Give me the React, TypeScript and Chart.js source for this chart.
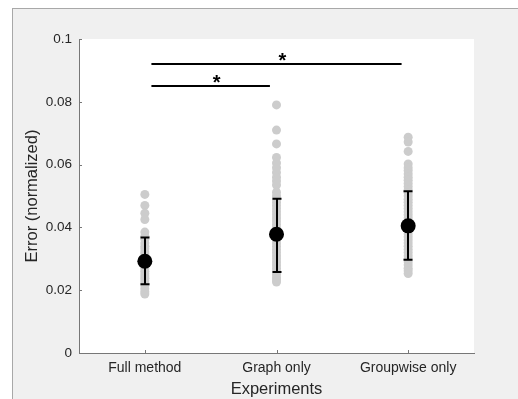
import React, { useEffect, useRef } from "react";
import { Chart, registerables } from "chart.js";

Chart.register(...registerables);

const categories = ["Full method", "Graph only", "Groupwise only"];
const yTicks = [0, 0.02, 0.04, 0.06, 0.08, 0.1];

const fullPoints = [
  0.0505, 0.047, 0.0445, 0.0425, 0.0385, 0.0372, 0.0362, 0.035, 0.034, 0.0332,
  0.0322, 0.0315, 0.0305, 0.0298, 0.029, 0.0282, 0.0275, 0.0268, 0.026, 0.0252,
  0.0245, 0.0238, 0.023, 0.0222, 0.0215, 0.0205, 0.0195, 0.0188,
];
const graphPoints = [
  0.079, 0.071, 0.0666, 0.0623, 0.0605, 0.059, 0.0575, 0.056, 0.0548, 0.0535,
  0.0512, 0.05, 0.049, 0.048, 0.047, 0.046, 0.045, 0.044, 0.043, 0.042, 0.041,
  0.04, 0.039, 0.038, 0.037, 0.036, 0.035, 0.034, 0.033, 0.032, 0.031, 0.03,
  0.029, 0.028, 0.027, 0.026, 0.025, 0.024, 0.0233, 0.0226,
];
const groupPoints = [
  0.0687, 0.0672, 0.0642, 0.0602, 0.059, 0.0581, 0.057, 0.056, 0.055, 0.054,
  0.053, 0.052, 0.051, 0.05, 0.049, 0.048, 0.047, 0.046, 0.045, 0.044, 0.043,
  0.042, 0.041, 0.04, 0.039, 0.038, 0.037, 0.036, 0.035, 0.034, 0.033, 0.032,
  0.031, 0.03, 0.029, 0.028, 0.027, 0.0262, 0.0253,
];
const means = [0.0292, 0.0378, 0.0405];
const errLow = [0.0219, 0.0258, 0.0297];
const errHigh = [0.0368, 0.0491, 0.0515];

const sigFrom = [1.05, 1.05];
const sigTo = [1.95, 2.95];
const sigY = [0.085, 0.092];
const sigLabel = ["*", "*"];

const FONT = "'Liberation Sans', Arial, Helvetica, sans-serif";
const TEXT = "#262626";

export default function App() {
  const ref = useRef<HTMLCanvasElement | null>(null);

  useEffect(() => {
    document.body.style.margin = "0";
    const canvas = ref.current;
    if (!canvas) return;

    const groups = [fullPoints, graphPoints, groupPoints];
    const meanIndex = 3;

    const bgPlugin = {
      id: "bg",
      beforeDraw(chart: any) {
        const { ctx, width, height, chartArea } = chart;
        ctx.save();
        ctx.fillStyle = "#ffffff";
        ctx.fillRect(0, 0, width, height);
        ctx.fillStyle = "#f0f0f0";
        ctx.fillRect(12, 8, width - 12, height - 8);
        ctx.strokeStyle = "#a8a8a8";
        ctx.lineWidth = 1;
        ctx.beginPath();
        ctx.moveTo(12.5, 8);
        ctx.lineTo(12.5, height);
        ctx.moveTo(12, 8.5);
        ctx.lineTo(width, 8.5);
        ctx.stroke();
        ctx.fillStyle = "#ffffff";
        ctx.fillRect(
          chartArea.left,
          chartArea.top,
          chartArea.right - chartArea.left,
          chartArea.bottom - chartArea.top
        );
        ctx.restore();
      },
      beforeDatasetDraw(chart: any, args: any) {
        if (args.index !== meanIndex) return;
        const { ctx, scales } = chart;
        const xs = scales.x;
        const ys = scales.y;
        ctx.save();
        ctx.strokeStyle = "#000000";
        ctx.lineWidth = 2;
        for (let i = 0; i < means.length; i++) {
          const x = Math.round(xs.getPixelForValue(i + 1));
          const y1 = ys.getPixelForValue(errLow[i]);
          const y2 = ys.getPixelForValue(errHigh[i]);
          ctx.beginPath();
          ctx.moveTo(x, y1);
          ctx.lineTo(x, y2);
          ctx.moveTo(x - 4.5, y1);
          ctx.lineTo(x + 4.5, y1);
          ctx.moveTo(x - 4.5, y2);
          ctx.lineTo(x + 4.5, y2);
          ctx.stroke();
        }
        ctx.restore();
      },
      afterDraw(chart: any) {
        const { ctx, scales, chartArea } = chart;
        const xs = scales.x;
        const ys = scales.y;
        ctx.save();
        // inward ticks
        ctx.strokeStyle = "#777777";
        ctx.lineWidth = 1;
        ctx.beginPath();
        for (const v of yTicks) {
          const y = Math.round(ys.getPixelForValue(v)) + 0.5;
          ctx.moveTo(chartArea.left, y);
          ctx.lineTo(chartArea.left + 3, y);
        }
        for (let i = 0; i < categories.length; i++) {
          const x = Math.round(xs.getPixelForValue(i + 1)) + 0.5;
          ctx.moveTo(x, chartArea.bottom);
          ctx.lineTo(x, chartArea.bottom - 3);
        }
        ctx.stroke();
        // significance bars
        ctx.strokeStyle = "#000000";
        ctx.lineWidth = 2;
        ctx.fillStyle = "#000000";
        ctx.font = `bold 20px ${FONT}`;
        ctx.textAlign = "center";
        ctx.textBaseline = "alphabetic";
        for (let i = 0; i < sigFrom.length; i++) {
          const xa = xs.getPixelForValue(sigFrom[i]);
          const xb = xs.getPixelForValue(sigTo[i]);
          const y = ys.getPixelForValue(sigY[i]);
          ctx.beginPath();
          ctx.moveTo(xa, y);
          ctx.lineTo(xb, y);
          ctx.stroke();
          const xm = xs.getPixelForValue((sigFrom[i] + sigTo[i]) / 2);
          ctx.fillText(sigLabel[i], xm + 6, y + 3);
        }
        ctx.restore();
      },
    };

    const datasets: any[] = groups.map((g, gi) => ({
      label: categories[gi],
      data: g.map((v) => ({ x: gi + 1, y: v })),
      order: 1,
      pointRadius: 4.5,
      pointHoverRadius: 4.5,
      backgroundColor: "#cccccc",
      borderWidth: 0,
      pointBorderWidth: 0,
    }));
    datasets.push({
      label: "Mean",
      data: means.map((v, i) => ({ x: i + 1, y: v })),
      order: 0,
      pointRadius: 7.5,
      pointHoverRadius: 7.5,
      backgroundColor: "#000000",
      borderWidth: 0,
      pointBorderWidth: 0,
    });

    const chart = new Chart(canvas, {
      type: "scatter",
      data: { datasets },
      plugins: [bgPlugin],
      options: {
        responsive: false,
        animation: false,
        events: [],
        layout: { padding: { left: 0, right: 44, top: 39, bottom: 0 } },
        plugins: {
          legend: { display: false },
          tooltip: { enabled: false },
        },
        scales: {
          x: {
            type: "linear",
            min: 0.5,
            max: 3.5,
            afterBuildTicks(scale: any) {
              scale.ticks = categories.map((_, i) => ({ value: i + 1 }));
            },
            afterFit(scale: any) {
              scale.height = 46;
            },
            grid: { display: false, drawTicks: false, tickLength: 0 },
            border: { display: true, color: "#777777", width: 1 },
            ticks: {
              autoSkip: false,
              maxRotation: 0,
              minRotation: 0,
              padding: 7,
              color: TEXT,
              font: { family: FONT, size: 14 },
              callback: (v: any) => categories[Math.round(v) - 1] ?? "",
            },
            title: {
              display: true,
              text: "Experiments",
              color: TEXT,
              font: { family: FONT, size: 16.5 },
              padding: { top: 0, bottom: 0 },
            },
          },
          y: {
            min: 0,
            max: 0.1,
            afterBuildTicks(scale: any) {
              scale.ticks = yTicks.map((v) => ({ value: v }));
            },
            afterFit(scale: any) {
              scale.width = 79;
            },
            grid: { display: false, drawTicks: false, tickLength: 0 },
            border: { display: true, color: "#777777", width: 1 },
            ticks: {
              padding: 7,
              color: TEXT,
              font: { family: FONT, size: 13.5 },
              callback: (v: any) => String(+Number(v).toFixed(2)),
            },
            title: {
              display: true,
              text: "Error (normalized)",
              color: TEXT,
              font: { family: FONT, size: 16.5 },
              padding: { top: 23, bottom: 0 },
            },
          },
        },
      },
    });

    return () => chart.destroy();
  }, []);

  return (
    <div style={{ width: 518, height: 399 }}>
      <canvas ref={ref} width={518} height={399} />
    </div>
  );
}
